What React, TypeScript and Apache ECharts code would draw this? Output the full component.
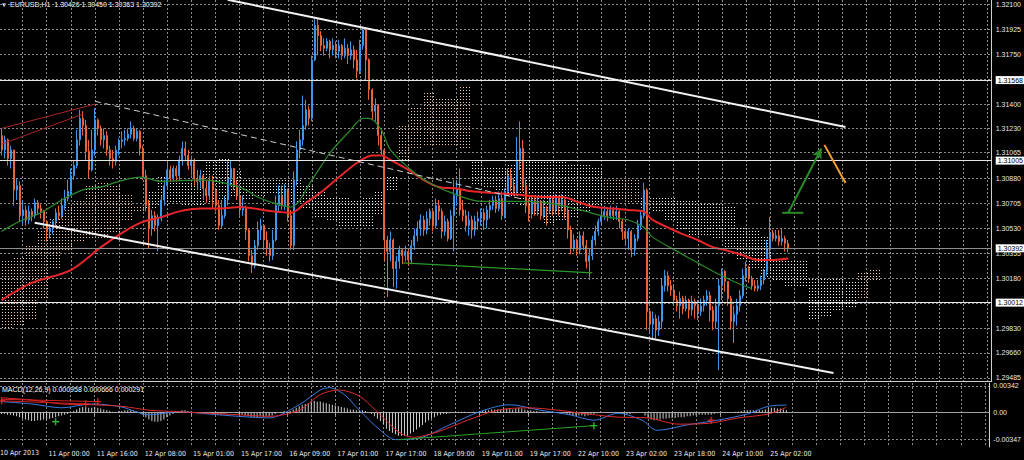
import React, { useEffect, useRef } from "react";
import * as echarts from "echarts";

const CATEGORY_COUNT = 329;
const FIRST_LABEL_INDEX = 15;
const LABEL_STEP = 16;
const timeLabels = ["11 Apr 00:00", "11 Apr 16:00", "12 Apr 08:00", "15 Apr 01:00", "15 Apr 17:00", "16 Apr 09:00", "17 Apr 01:00", "17 Apr 17:00", "18 Apr 09:00", "19 Apr 01:00", "19 Apr 17:00", "22 Apr 10:00", "23 Apr 02:00", "23 Apr 18:00", "24 Apr 10:00", "25 Apr 02:00"];

const firstOpen = 1.3118;
const closes = [
  1.3108,1.3115,1.3102,1.3108,1.3080,1.3083,1.3062,1.3066,1.3059,1.3065,
  1.3062,1.3071,1.3067,1.3065,1.3058,1.3051,1.3053,1.3058,1.3064,1.3062,
  1.3069,1.3074,1.3079,1.3090,1.3097,1.3115,1.3130,1.3125,1.3107,1.3094,
  1.3108,1.3129,1.3123,1.3115,1.3118,1.3108,1.3102,1.3100,1.3108,1.3114,
  1.3115,1.3116,1.3119,1.3123,1.3116,1.3121,1.3109,1.3090,1.3069,1.3053,
  1.3062,1.3055,1.3060,1.3073,1.3083,1.3094,1.3088,1.3095,1.3090,1.3101,
  1.3109,1.3104,1.3097,1.3101,1.3088,1.3086,1.3090,1.3081,1.3076,1.3086,
  1.3080,1.3069,1.3055,1.3062,1.3073,1.3088,1.3095,1.3083,1.3076,1.3066,
  1.3067,1.3052,1.3034,1.3027,1.3041,1.3052,1.3055,1.3045,1.3039,1.3034,
  1.3045,1.3069,1.3076,1.3069,1.3080,1.3062,1.3041,1.3087,1.3108,1.3115,
  1.3125,1.3136,1.3130,1.3171,1.3195,1.3188,1.3181,1.3179,1.3184,1.3178,
  1.3181,1.3177,1.3181,1.3174,1.3179,1.3174,1.3178,1.3171,1.3163,1.3181,
  1.3192,1.3171,1.3150,1.3135,1.3139,1.3118,1.3108,1.3045,1.3037,1.3045,
  1.3025,1.3030,1.3038,1.3034,1.3037,1.3031,1.3041,1.3048,1.3053,1.3059,
  1.3052,1.3060,1.3065,1.3055,1.3069,1.3065,1.3051,1.3058,1.3046,1.3062,
  1.3076,1.3081,1.3066,1.3062,1.3055,1.3059,1.3052,1.3058,1.3060,1.3064,
  1.3059,1.3066,1.3069,1.3073,1.3067,1.3074,1.3062,1.3079,1.3090,1.3083,
  1.3079,1.3101,1.3109,1.3083,1.3069,1.3064,1.3073,1.3066,1.3071,1.3062,
  1.3067,1.3066,1.3073,1.3066,1.3074,1.3069,1.3073,1.3065,1.3052,
  1.3039,1.3045,1.3038,1.3048,1.3041,1.3030,1.3034,1.3045,1.3051,1.3058,
  1.3062,1.3065,1.3062,1.3066,1.3062,1.3065,1.3058,1.3051,1.3046,1.3051,
  1.3038,1.3046,1.3055,1.3062,1.3080,1.2995,1.2986,1.2990,1.2982,1.2988,
  1.3013,1.3020,1.3013,1.3010,1.3003,1.2999,1.3004,1.2997,1.3003,1.2996,
  1.3002,1.2999,1.2995,1.2999,1.3003,1.3006,1.2996,1.2988,1.2999,
  1.3013,1.3023,1.3016,1.3004,1.2988,1.2993,1.2999,1.3006,1.3020,1.3025,
  1.3018,1.3013,1.3011,1.3013,1.3017,1.3023,1.3038,1.3050,1.3046,1.3048,
  1.3044,1.3046,1.30426,1.30392
];
const highs = [
  1.3123,1.3118,1.3116,1.3111,1.3108,1.3088,1.3086,1.3073,1.3069,1.3069,
  1.3067,1.3074,1.3073,1.3070,1.3066,1.3059,1.3056,1.3059,1.3067,1.3069,
  1.3074,1.3080,1.3087,1.3095,1.3101,1.3122,1.3136,1.3135,1.3129,1.3115,
  1.3122,1.3137,1.3130,1.3125,1.3123,1.3121,1.3111,1.3108,1.3111,1.3116,
  1.3121,1.3122,1.3123,1.3128,1.3125,1.3123,1.3122,1.3111,1.3094,1.3073,
  1.3066,1.3065,1.3063,1.3076,1.3087,1.3100,1.3097,1.3097,1.3097,1.3104,
  1.3114,1.3114,1.3108,1.3104,1.3102,1.3094,1.3094,1.3090,1.3087,1.3090,
  1.3090,1.3081,1.3073,1.3073,1.3076,1.3100,1.3101,1.3095,1.3087,1.3080,
  1.3076,1.3069,1.3053,1.3038,1.3045,1.3058,1.3060,1.3055,1.3051,1.3043,
  1.3052,1.3076,1.3083,1.3083,1.3084,1.3081,1.3066,1.3093,1.3114,1.3122,
  1.3146,1.3143,1.3139,1.3174,1.3200,1.3200,1.3191,1.3186,1.3186,1.3185,
  1.3186,1.3184,1.3185,1.3182,1.3186,1.3182,1.3184,1.3181,1.3178,1.3185,
  1.3194,1.3193,1.3172,1.3151,1.3144,1.3140,1.3122,1.3109,1.3048,1.3051,
  1.3046,1.3034,1.3041,1.3039,1.3041,1.3039,1.3045,1.3053,1.3058,1.3063,
  1.3062,1.3065,1.3067,1.3066,1.3074,1.3073,1.3067,1.3062,1.3060,1.3066,
  1.3087,1.3086,1.3095,1.3073,1.3066,1.3065,1.3062,1.3062,1.3065,1.3067,
  1.3067,1.3069,1.3073,1.3076,1.3076,1.3079,1.3079,1.3081,1.3095,1.3095,
  1.3088,1.3117,1.3128,1.3115,1.3087,1.3074,1.3076,1.3076,1.3075,1.3073,
  1.3073,1.3069,1.3076,1.3076,1.3077,1.3076,1.3077,1.3074,1.3069,
  1.3055,1.3049,1.3046,1.3051,1.3051,1.3045,1.3039,1.3048,1.3055,1.3060,
  1.3066,1.3069,1.3068,1.3069,1.3068,1.3069,1.3066,1.3060,1.3052,1.3053,
  1.3052,1.3049,1.3059,1.3066,1.3085,1.3081,1.2996,1.2995,1.2993,1.2992,
  1.3018,1.3024,1.3023,1.3017,1.3013,1.3006,1.3009,1.3006,1.3006,1.3004,
  1.3006,1.3004,1.3003,1.3004,1.3006,1.3010,1.3009,1.2999,1.3004,
  1.3018,1.3025,1.3024,1.3016,1.3006,1.2999,1.3004,1.3010,1.3025,1.3030,
  1.3027,1.3020,1.3017,1.3017,1.3020,1.3025,1.3045,1.3061,1.3052,1.3052,
  1.3052,1.3053,1.3048,1.30450
];
const lows = [
  1.3104,1.3102,1.3097,1.3095,1.3069,1.3073,1.3058,1.3055,1.3055,1.3056,
  1.3058,1.3060,1.3063,1.3060,1.3053,1.3044,1.3046,1.3049,1.3055,1.3059,
  1.3060,1.3066,1.3072,1.3076,1.3087,1.3095,1.3111,1.3118,1.3101,1.3088,
  1.3093,1.3104,1.3118,1.3111,1.3109,1.3104,1.3097,1.3095,1.3097,1.3104,
  1.3109,1.3111,1.3114,1.3116,1.3114,1.3114,1.3104,1.3087,1.3065,1.3039,
  1.3048,1.3051,1.3037,1.3058,1.3069,1.3080,1.3086,1.3086,1.3086,1.3087,
  1.3097,1.3101,1.3094,1.3090,1.3083,1.3080,1.3081,1.3073,1.3071,1.3073,
  1.3067,1.3065,1.3052,1.3053,1.3060,1.3069,1.3083,1.3080,1.3073,1.3062,
  1.3062,1.3045,1.3030,1.3022,1.3025,1.3038,1.3045,1.3039,1.3034,1.3030,
  1.3031,1.3044,1.3065,1.3066,1.3066,1.3058,1.3038,1.3038,1.3083,1.3102,
  1.3111,1.3122,1.3125,1.3128,1.3170,1.3174,1.3177,1.3174,1.3177,1.3172,
  1.3174,1.3172,1.3172,1.3171,1.3172,1.3168,1.3171,1.3165,1.3158,1.3161,
  1.3178,1.3157,1.3143,1.3129,1.3128,1.3111,1.3104,1.3030,1.3005,1.3030,
  1.3012,1.3011,1.3025,1.3028,1.3030,1.3027,1.3028,1.3038,1.3044,1.3048,
  1.3048,1.3049,1.3055,1.3051,1.3053,1.3059,1.3046,1.3048,1.3044,1.3045,
  1.3037,1.3069,1.3062,1.3058,1.3051,1.3048,1.3046,1.3048,1.3052,1.3055,
  1.3052,1.3053,1.3060,1.3066,1.3064,1.3065,1.3059,1.3060,1.3076,1.3079,
  1.3076,1.3076,1.3094,1.3079,1.3064,1.3058,1.3060,1.3062,1.3062,1.3059,
  1.3060,1.3055,1.3063,1.3062,1.3063,1.3062,1.3065,1.3060,1.3046,
  1.3035,1.3037,1.3034,1.3035,1.3038,1.3025,1.3017,1.3031,1.3041,1.3048,
  1.3055,1.3059,1.3058,1.3060,1.3059,1.3059,1.3053,1.3045,1.3042,1.3038,
  1.3033,1.3034,1.3044,1.3052,1.3060,1.2982,1.2980,1.2976,1.2976,1.2978,
  1.2983,1.3009,1.3009,1.3006,1.2999,1.2995,1.2990,1.2993,1.2995,1.2990,
  1.2992,1.2990,1.2989,1.2992,1.2995,1.2999,1.2988,1.2982,1.2983,
  1.2954,1.3003,1.3009,1.2999,1.2982,1.2973,1.2985,1.2995,1.3004,1.3016,
  1.3015,1.3010,1.3009,1.3009,1.3010,1.3014,1.3020,1.3032,1.3044,1.3044,
  1.3041,1.3041,1.3037,1.30363
];

const histogram = [
  -0.0002,-0.0002,-0.0003,-0.0003,-0.0004,-0.0005,-0.0006,-0.0008,-0.0009,-0.0010,
  -0.0011,-0.0011,-0.0010,-0.0010,-0.0009,-0.0009,-0.0008,-0.0007,-0.0006,-0.0005,
  -0.0004,-0.0003,-0.0002,0,0.0002,0.0004,0.0006,0.0007,0.0007,0.0006,
  0.0006,0.0007,0.0006,0.0005,0.0004,0.0003,0.0002,0.0001,0.0001,0.0002,
  0.0002,0.0003,0.0003,0.0003,0.0002,0.0002,0,-0.0003,-0.0006,-0.0009,
  -0.0011,-0.0012,-0.0012,-0.0011,-0.0009,-0.0006,-0.0004,-0.0002,0,0.0002,
  0.0003,0.0003,0.0002,0.0001,0,-0.0001,-0.0001,-0.0002,-0.0002,-0.0001,
  -0.0001,-0.0002,-0.0003,-0.0003,-0.0002,-0.0001,0,0,-0.0001,-0.0002,
  -0.0003,-0.0004,-0.0005,-0.0006,-0.0006,-0.0006,-0.0005,-0.0005,-0.0005,-0.0005,
  -0.0004,-0.0002,0,0.0001,0.0002,0.0002,0.0002,0.0004,0.0006,0.0008,
  0.0010,0.0011,0.0012,0.0014,0.0015,0.0014,0.0014,0.0013,0.0012,0.0011,
  0.0010,0.0009,0.0008,0.0007,0.0006,0.0005,0.0004,0.0004,0.0003,0.0003,
  0.0003,0.0002,0,-0.0002,-0.0005,-0.0008,-0.0011,-0.0015,-0.0021,-0.0024,
  -0.0026,-0.0028,-0.0030,-0.0030,-0.0030,-0.0029,-0.0027,-0.0025,-0.0022,-0.0019,
  -0.0016,-0.0013,-0.0010,-0.0008,-0.0006,-0.0004,-0.0003,-0.0002,-0.0002,-0.0001,
  0,0.0001,0.0001,0.0001,0.0001,0,0,0.0001,0.0001,0.0002,
  0.0002,0.0003,0.0003,0.0004,0.0004,0.0004,0.0004,0.0005,0.0005,0.0005,
  0.0004,0.0005,0.0006,0.0005,0.0004,0.0003,0.0003,0.0002,0.0002,0.0001,
  0.0001,0,0,0,0,0,0,-0.0001,-0.0002,
  -0.0003,-0.0004,-0.0004,-0.0004,-0.0004,-0.0005,-0.0004,-0.0003,-0.0002,-0.0001,
  0,0,0,0,0,0,-0.0001,-0.0001,-0.0002,-0.0002,
  -0.0002,-0.0001,-0.0001,0,0,-0.0004,-0.0007,-0.0009,-0.0010,-0.0010,
  -0.0009,-0.0008,-0.0008,-0.0007,-0.0007,-0.0007,-0.0006,-0.0006,-0.0006,-0.0005,
  -0.0005,-0.0004,-0.0004,-0.0003,-0.0003,-0.0003,-0.0003,-0.0003,-0.0002,
  -0.0001,0,0,0,0,0,0.0001,0.0001,0.0002,0.0003,
  0.0003,0.0003,0.0003,0.0003,0.0003,0.0003,0.0004,0.0005,0.0006,0.0006,
  0.0005,0.0005,0.0004,0.0003
];

const priceGridLevels = [1.321, 1.31925, 1.3175, 1.31575, 1.314, 1.3123, 1.31065, 1.3088, 1.30705, 1.3053, 1.30355, 1.3018, 1.30005, 1.2983, 1.2966, 1.29485];
const priceLabelLevels = [1.321, 1.31925, 1.3175, 1.314, 1.3123, 1.31065, 1.3088, 1.30705, 1.3053, 1.30355, 1.3018, 1.2983, 1.2966, 1.29485];
const levelLines = [1.31568, 1.31005, 1.30012];
const lastPrice = 1.30392;
const macdLabelLevels = [0.00342, 0, -0.00347];

// moving averages as [bar index, price]
const redMA = [[0,1.3003],[10,1.3015],[23,1.3024],[33,1.3040],[40,1.3050],[46,1.3057],[53,1.3061],[59,1.3065],[66,1.3067],[73,1.3067],[79,1.3068],[90,1.3065],[96,1.3064],[101,1.3071],[107,1.3080],[112,1.3089],[118,1.3099],[123,1.3104],[126,1.3104],[129,1.3101],[135,1.3094],[140,1.3087],[145,1.3082],[151,1.3081],[156,1.3079],[162,1.3078],[170,1.3077],[181,1.3075],[186,1.3075],[192,1.3071],[197,1.3068],[203,1.3067],[208,1.3066],[213,1.3065],[216,1.3059],[225,1.3050],[231,1.3045],[236,1.3040],[240,1.3038],[245,1.3035],[251,1.3031],[256,1.3031],[261,1.3032]];
const greenMA = [[0,1.3051],[6,1.3058],[13,1.3064],[20,1.3073],[27,1.3080],[33,1.3082],[39,1.3086],[46,1.3089],[53,1.3086],[66,1.3087],[79,1.3082],[85,1.3075],[90,1.3071],[96,1.3068],[103,1.3087],[109,1.3106],[115,1.3120],[120,1.3130],[122,1.3130],[126,1.3122],[129,1.3108],[137,1.3092],[142,1.3085],[148,1.3079],[159,1.3072],[170,1.3072],[181,1.3071],[192,1.3066],[201,1.3061],[208,1.3059],[213,1.3054],[216,1.3047],[225,1.3036],[231,1.3029],[238,1.3021],[245,1.3014],[249,1.3011]];

// Ichimoku cloud spans, one sample every CLOUD_STEP bars
const CLOUD_STEP = 4;
const spanA = [1.3030,1.3034,1.3041,1.3051,1.3060,1.3069,1.3074,1.3083,1.3086,1.3083,1.3078,1.3069,1.3067,1.3069,1.3071,1.3069,1.3069,1.3071,1.3073,1.3075,1.3073,1.3076,1.3078,1.3076,1.3071,1.3066,1.3060,1.3058,1.3055,1.3054,1.3055,1.3062,1.3080,1.3125,1.3137,1.3149,1.3145,1.3144,1.3153,1.3083,1.3082,1.3080,1.3076,1.3069,1.3062,1.3057,1.3058,1.3060,1.3064,1.3069,1.3087,1.3088,1.3087,1.3076,1.3065,1.3058,1.3052,1.3047,1.3047,1.3045,1.3040,1.3031,1.3025,1.3018,1.3016,1.3013,1.3013,1.2989,1.2992,1.2995,1.2998,1.3023,1.3024];
const spanB = [1.2982,1.2985,1.2990,1.3003,1.3024,1.3038,1.3043,1.3046,1.3045,1.3050,1.3058,1.3064,1.3080,1.3090,1.3093,1.3088,1.3094,1.3101,1.3103,1.3093,1.3087,1.3087,1.3088,1.3088,1.3087,1.3083,1.3079,1.3076,1.3075,1.3074,1.3075,1.3080,1.3090,1.3101,1.3109,1.3111,1.3111,1.3111,1.3108,1.3101,1.3097,1.3096,1.3099,1.3101,1.3101,1.3101,1.3100,1.3099,1.3099,1.3096,1.3071,1.3072,1.3071,1.3066,1.3076,1.3075,1.3073,1.3072,1.3071,1.3071,1.3069,1.3055,1.3053,1.3048,1.3031,1.3031,1.3030,1.3019,1.3019,1.3018,1.3017,1.3004,1.3016];

const macdMain = [[0,0.0014],[10,0.0011],[20,0.0006],[30,0.0011],[40,0.0007],[49,-0.0003],[59,0.0001],[69,-0.0002],[79,-0.0005],[89,-0.0007],[99,0.0010],[106,0.0029],[109,0.0032],[114,0.0023],[119,0.0003],[126,-0.0023],[131,-0.0035],[139,-0.0033],[149,-0.0016],[159,0.0001],[169,0.0010],[179,0.0003],[189,-0.0003],[197,-0.0010],[205,-0.0001],[213,-0.0010],[218,-0.0023],[228,-0.0016],[238,-0.0010],[248,-0.0002],[255,0.0008],[261,0.000958]];
const macdSignal = [[0,0.0019],[10,0.0016],[20,0.0011],[30,0.0010],[40,0.0008],[49,0.0003],[59,0.0001],[69,-0.0001],[79,-0.0003],[89,-0.0005],[99,0.0003],[106,0.0023],[112,0.0029],[119,0.0021],[126,-0.0003],[132,-0.0025],[137,-0.0032],[145,-0.0025],[155,-0.0010],[165,0.0003],[175,0.0006],[185,0.0003],[195,-0.0002],[205,-0.0006],[215,-0.0007],[225,-0.0015],[235,-0.0014],[245,-0.0007],[255,-0.0002],[261,0.000666]];

// drawn objects: [bar, price] end points
const channelUpper = [[75, 1.3213], [280, 1.3124]];
const channelLower = [[11, 1.3057], [276, 1.2952]];
const dashedTrend = [[31, 1.3142], [172, 1.3074]];
const greenSegment = [[133, 1.3029], [196, 1.3022]];
const redFanA = [[0, 1.3123], [31, 1.3140]];
const redFanB = [[0, 1.3112], [27, 1.3133]];
const greenArrow = [[261, 1.3064], [272, 1.3109]];
const greenArrowBase = [[259, 1.3064], [266, 1.3064]];
const orangeStroke = [[273, 1.31115], [280, 1.30849]];
const macdRedLineA = [[0, 0.0017], [32, 0.0014]];
const macdRedLineB = [[0, 0.0015], [28, 0.0011]];
const macdGreenLine = [[132, -0.0035], [197, -0.0017]];
const macdRedMarks = [[0, 0.0015], [28, 0.0011], [32, 0.0014], [236, -0.0010]];
const macdGreenMarks = [[18, -0.0012], [197, -0.0017]];

const isLabelIndex = (i: number) => i >= FIRST_LABEL_INDEX && (i - FIRST_LABEL_INDEX) % LABEL_STEP === 0 && (i - FIRST_LABEL_INDEX) / LABEL_STEP < timeLabels.length;

const NARROW = "'Liberation Sans Narrow', 'DejaVu Sans Condensed', 'Liberation Sans', sans-serif";
const SANS = "'Liberation Sans', Arial, sans-serif";
const GRID_LINE = { color: "#8a8a8a", type: [2, 2] as any, width: 1 };
const PLUS = "path://M4,0h2v4h4v2h-4v4h-2v-4h-4v-2h4z";

export default function App() {
  const ref = useRef<HTMLDivElement>(null);
  useEffect(() => {
    document.body.style.margin = "0";
    document.body.style.background = "#000";
    const chart = echarts.init(ref.current!, null, { renderer: "svg" });
    const categories = Array.from({ length: CATEGORY_COUNT }, (_, i) => String(i));
    const candles = closes.map((c, i) => [i === 0 ? firstOpen : closes[i - 1], c, lows[i], highs[i]]);
    const cloud = spanA.map((a, j) => [j * CLOUD_STEP, a, spanB[j]]);

    const seg = (data: number[][], color: string, width: number, type: any = "solid", xi = 0, z = 5) => ({
      type: "line", xAxisIndex: xi, yAxisIndex: xi, data, showSymbol: false, symbol: "none", silent: true, z,
      lineStyle: { color, width, type }, clip: true,
    });

    const option: any = {
      animation: false,
      backgroundColor: "#000",
      grid: [
        { left: -1, top: 0, width: 994, height: 381 },
        { left: -1, top: 383, width: 994, height: 64 },
      ],
      xAxis: [0, 1].map((gi) => ({
        type: "category", gridIndex: gi, data: categories, boundaryGap: true,
        axisLine: { show: true, lineStyle: { color: gi === 0 ? "#d0d0d0" : "#a0a0a0", width: 1 } },
        axisTick: gi === 0 ? { show: false } : { show: true, alignWithLabel: true, interval: (i: number) => isLabelIndex(i), length: 3, lineStyle: { color: "#a0a0a0" } },
        axisLabel: gi === 0 ? { show: false } : {
          show: true, interval: (i: number) => isLabelIndex(i),
          formatter: (_v: string, i: number) => (isLabelIndex(i) ? timeLabels[(i - FIRST_LABEL_INDEX) / LABEL_STEP] : ""),
          color: "#e8e8e8", fontSize: 7, fontFamily: NARROW, align: "left", margin: 3, padding: [0, 0, 0, 2],
        },
        splitLine: { show: true, alignWithLabel: true, interval: (i: number) => i % 8 === 7, lineStyle: GRID_LINE },
      })),
      yAxis: [
        {
          type: "value", gridIndex: 0, position: "right", min: 1.29464, max: 1.32128, scale: true,
          axisLine: { show: true, lineStyle: { color: "#d0d0d0" } },
          axisTick: { show: false, customValues: priceGridLevels },
          axisLabel: { show: true, customValues: priceLabelLevels, formatter: (v: number) => v.toFixed(5), color: "#e8e8e8", fontSize: 7, fontFamily: SANS, margin: 4 },
          splitLine: { show: true, lineStyle: GRID_LINE },
        },
        {
          type: "value", gridIndex: 1, position: "right", min: -0.00445, max: 0.0038,
          axisLine: { show: true, lineStyle: { color: "#d0d0d0" } },
          axisTick: { show: false, customValues: macdLabelLevels },
          axisLabel: { show: true, customValues: macdLabelLevels, formatter: (v: number) => (v === 0 ? "0.00" : v.toFixed(5)), color: "#e8e8e8", fontSize: 7, fontFamily: SANS, margin: 4 },
          splitLine: { show: true, lineStyle: GRID_LINE },
        },
      ],
      series: [
        {
          type: "custom", xAxisIndex: 0, yAxisIndex: 0, data: cloud, silent: true, z: 1, clip: true,
          renderItem: (_p: any, api: any) => {
            const c = api.value(0) as number;
            const a = api.value(1) as number;
            const b = api.value(2) as number;
            const color = a >= b ? "#f2c8b0" : "#f0f0f0";
            const children: any[] = [];
            for (let i = 0; i < CLOUD_STEP; i++) {
              const p1 = api.coord([c + i, a]);
              const p2 = api.coord([c + i, b]);
              const x = Math.round(p1[0]) + 0.5;
              const yTop = Math.round(Math.min(p1[1], p2[1]));
              const yBot = Math.round(Math.max(p1[1], p2[1]));
              children.push({ type: "line", shape: { x1: x, y1: yTop, x2: x, y2: yBot }, style: { stroke: color, lineWidth: 1, lineDash: [1, 2], lineDashOffset: yTop % 3 } });
            }
            return { type: "group", children };
          },
        },
        {
          type: "candlestick", xAxisIndex: 0, yAxisIndex: 0, data: candles, barWidth: 1.5, z: 3, silent: true,
          itemStyle: { color: "#3f95ea", color0: "#e8643a", borderColor: "#3f95ea", borderColor0: "#e8643a", borderWidth: 1 },
          markLine: {
            silent: true, symbol: "none", precision: 5,
            data: [
              ...levelLines.map((v) => ({ yAxis: v, lineStyle: { color: "#e6e6e6", width: 1, type: "solid" } })),
              { yAxis: lastPrice, lineStyle: { color: "#8c8c8c", width: 1, type: "solid" } },
            ],
            label: { show: true, position: "end", distance: 4, formatter: (p: any) => Number(p.value).toFixed(5), backgroundColor: "#ffffff", color: "#000", fontSize: 7, fontFamily: SANS, padding: [1, 2, 0, 2] },
          },
        },
        { ...seg(redMA, "#e8262a", 2, "solid", 0, 4), smooth: 0.3 },
        { ...seg(greenMA, "#2a8a2a", 1.2, "solid", 0, 4), smooth: 0.3 },
        seg(channelUpper, "#f2f2f2", 2),
        seg(channelLower, "#f2f2f2", 2),
        seg(dashedTrend, "#cfcfcf", 1, [6, 4]),
        seg(greenSegment, "#2a9a2a", 1.2),
        seg(redFanA, "#a82828", 1),
        seg(redFanB, "#a82828", 1),
        seg(greenArrowBase, "#2a8a2a", 2),
        seg(orangeStroke, "#f0a030", 2),
        {
          type: "line", xAxisIndex: 0, yAxisIndex: 0, data: [], silent: true, z: 6,
          markLine: {
            silent: true, symbol: ["none", "arrow"], symbolSize: [8, 10], label: { show: false },
            lineStyle: { color: "#2a8a2a", width: 2, type: "solid" },
            data: [[{ coord: greenArrow[0] }, { coord: greenArrow[1] }]],
          },
        },
        { type: "bar", xAxisIndex: 1, yAxisIndex: 1, data: histogram, barWidth: 1, silent: true, itemStyle: { color: "#cfcfcf" }, z: 2 },
        { ...seg(macdMain, "#3a7be0", 1, "solid", 1, 4), smooth: 0.3 },
        { ...seg(macdSignal, "#e02a2a", 1, "solid", 1, 4), smooth: 0.3 },
        seg(macdRedLineA, "#d02020", 1, "solid", 1),
        seg(macdRedLineB, "#d02020", 1, "solid", 1),
        seg(macdGreenLine, "#2aa02a", 1, "solid", 1),
        { type: "scatter", xAxisIndex: 1, yAxisIndex: 1, data: macdRedMarks, symbol: PLUS, symbolSize: 7, itemStyle: { color: "#ff2a2a" }, silent: true, z: 7 },
        { type: "scatter", xAxisIndex: 1, yAxisIndex: 1, data: macdGreenMarks, symbol: PLUS, symbolSize: 7, itemStyle: { color: "#30e030" }, silent: true, z: 7 },
      ],
      graphic: [
        { type: "text", x: 1, y: 2, silent: true, style: { text: "▼", fill: "#ffffff", font: `6px ${SANS}` } },
        { type: "text", x: 10, y: 1, silent: true, style: { text: "EURUSD,H1  1.30426 1.30450 1.30363 1.30392", fill: "#ffffff", font: `7px ${SANS}` } },
        { type: "text", x: 2, y: 386, silent: true, style: { text: "MACD(12,26,9) 0.000958 0.000666 0.000291", fill: "#ffffff", font: `7px ${SANS}` } },
        { type: "text", x: 0, y: 449, silent: true, style: { text: "10 Apr 2013", fill: "#e8e8e8", font: `7px ${NARROW}` } },
      ],
    };
    chart.setOption(option);
    return () => chart.dispose();
  }, []);
  return <div ref={ref} style={{ width: 1024, height: 460, background: "#000" }} />;
}
